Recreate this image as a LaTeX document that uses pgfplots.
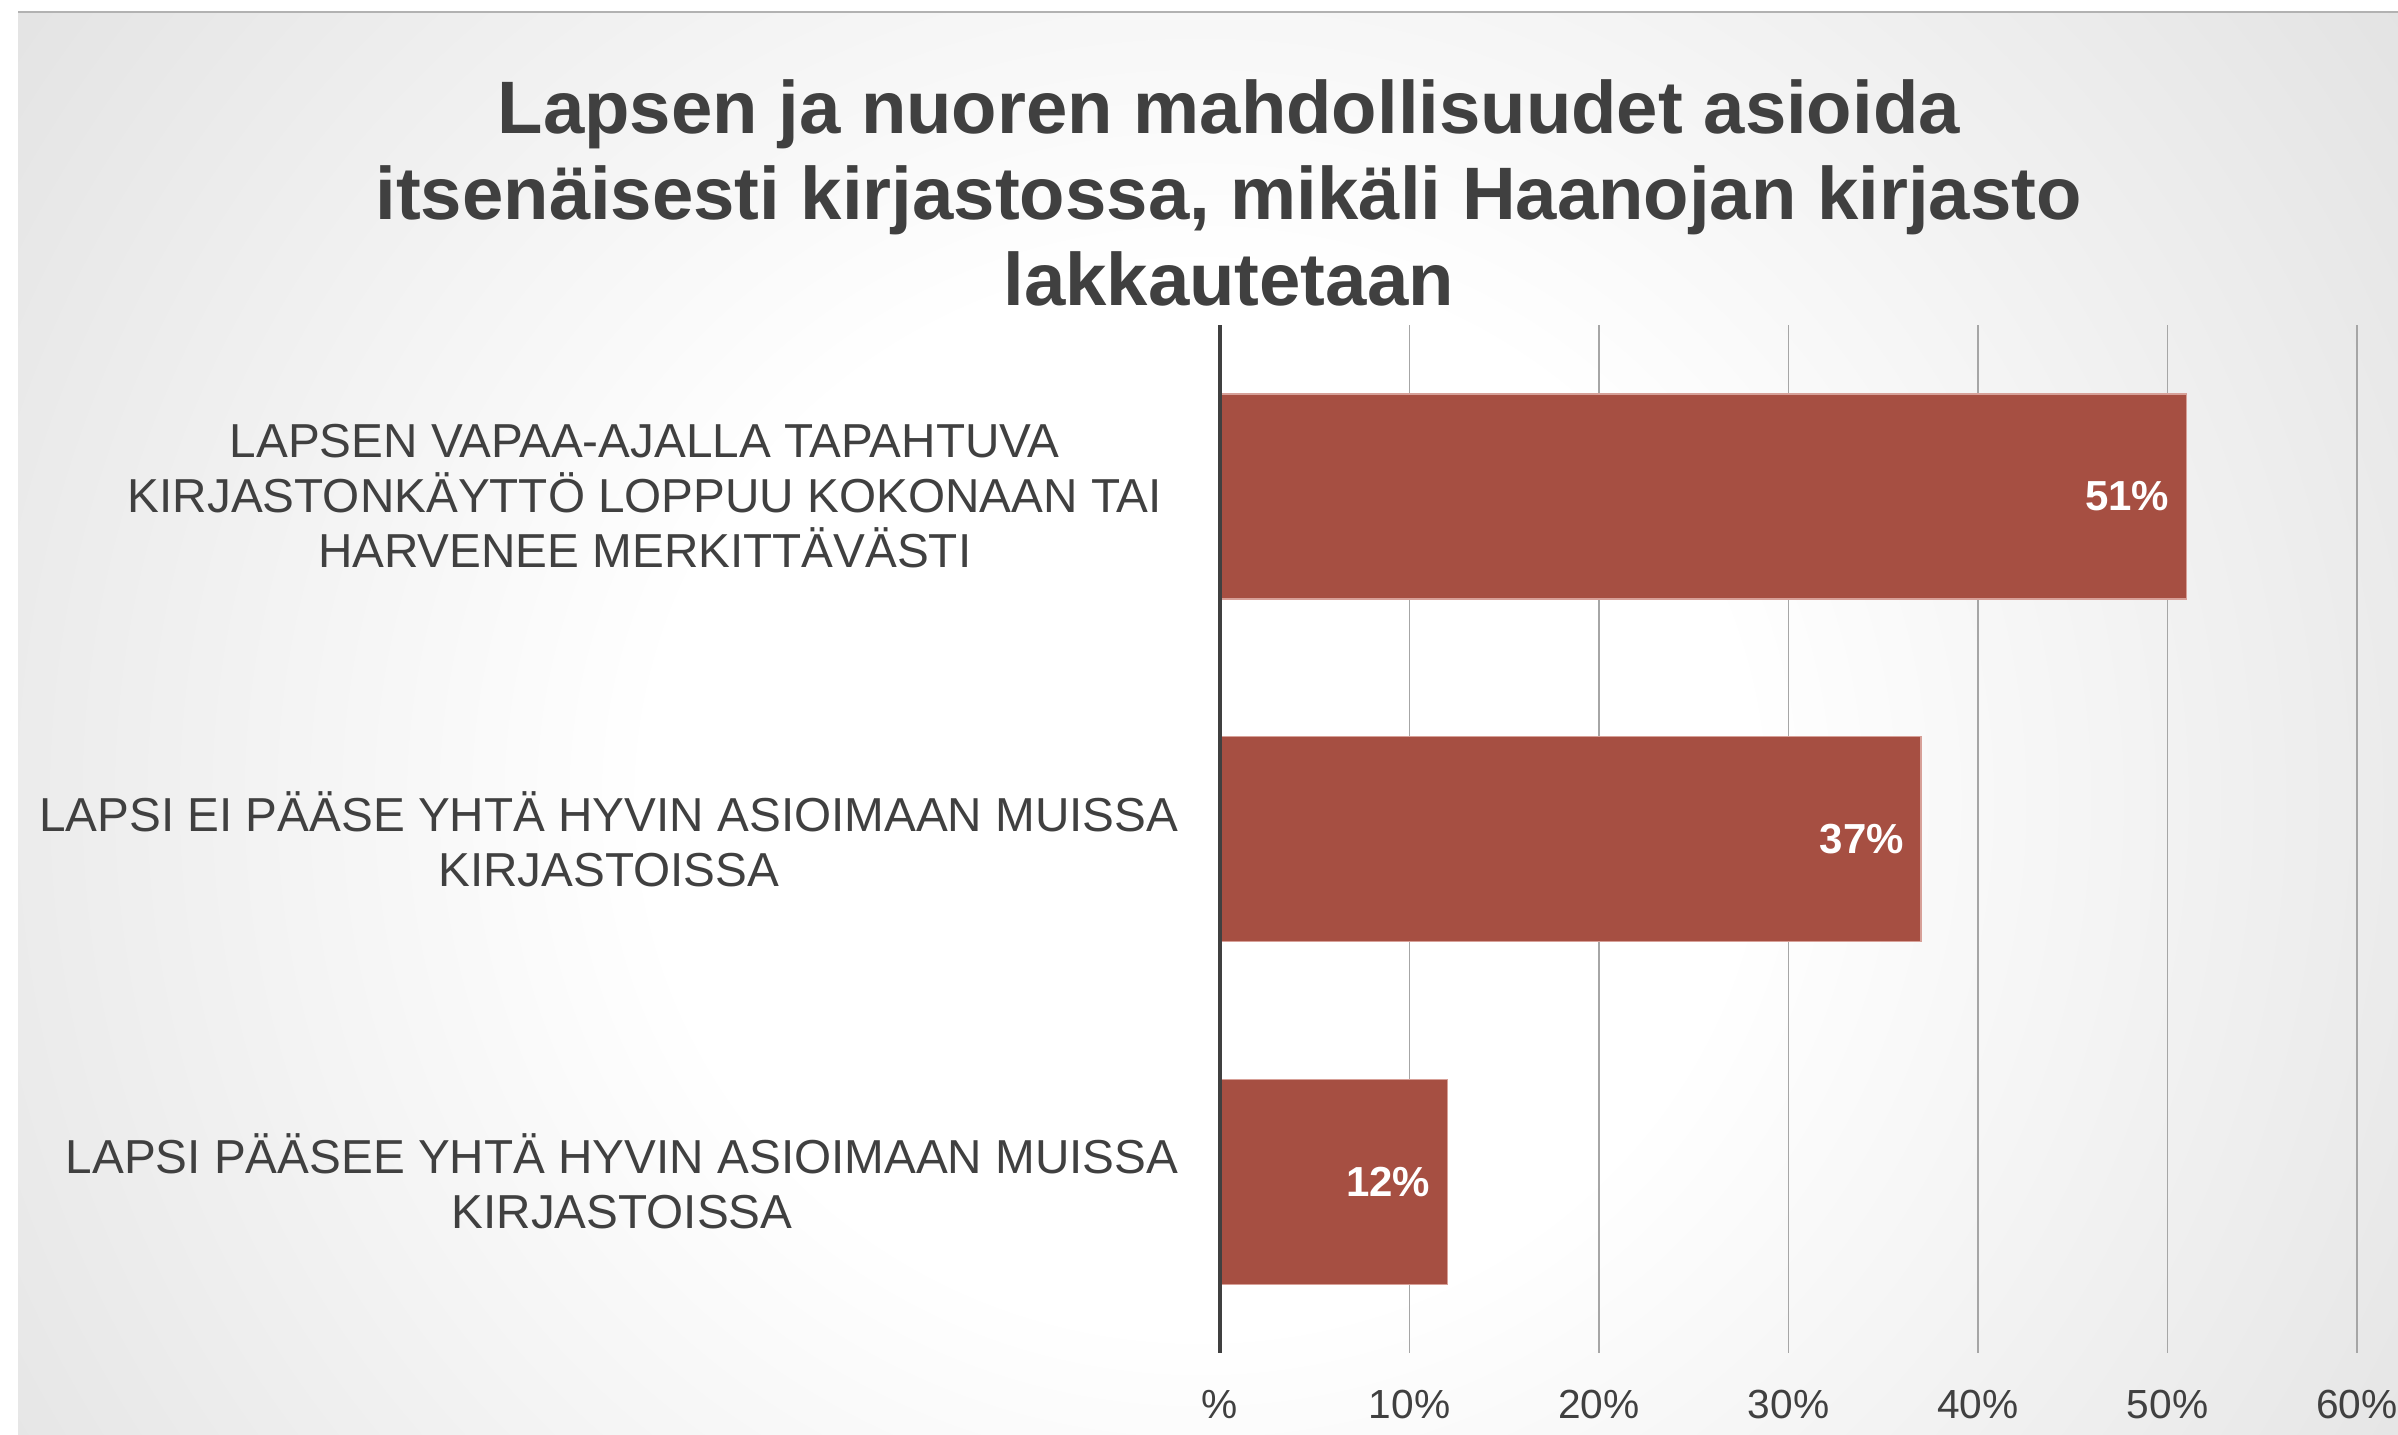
\documentclass[border=0pt]{standalone}
\usepackage{pgfplots}
\pgfplotsset{compat=1.18}
\usepackage{fontspec}
\setmainfont{Liberation Sans}

\definecolor{barRed}{RGB}{166,79,66}
\definecolor{barEdge}{RGB}{215,160,152}
\definecolor{txt}{RGB}{64,64,64}
\definecolor{gridc}{RGB}{166,166,166}
\definecolor{bgEdge}{RGB}{198,198,198}
\definecolor{bgCorner}{RGB}{188,188,188}
\pgfdeclareradialshading{bgshade}{\pgfpoint{0bp}{0bp}}{color(0bp)=(white); color(11bp)=(white); color(48bp)=(bgEdge); color(72bp)=(bgCorner)}

\begin{document}
\begin{tikzpicture}
% page frame and grey radial background
\path[use as bounding box] (0pt,0pt) rectangle (719.4pt,-430.5pt);
\begin{scope}
  \clip (5.4pt,-3.6pt) rectangle (719.4pt,-430.5pt);
  \shade[shading=bgshade] (-15pt,-600pt) rectangle (735pt,120pt);
\end{scope}
\draw[color=black!30, line width=0.6pt] (5.4pt,-3.6pt) -- (719.4pt,-3.6pt);

% title
\begin{scope}[every node/.style={anchor=base, text=txt, inner sep=0pt,
    font=\fontsize{22.3}{25.9}\selectfont\bfseries}]
  \node at (368.6pt,-40.2pt) {Lapsen ja nuoren mahdollisuudet asioida};
  \node at (368.6pt,-66.0pt) {itsenäisesti kirjastossa, mikäli Haanojan kirjasto};
  \node at (368.6pt,-91.8pt) {lakkautetaan};
\end{scope}

\begin{axis}[
  at={(366pt,-405.9pt)}, anchor=south west,
  width=341.1pt, height=308.4pt, scale only axis,
  clip=false,
  xbar, bar width=61.5pt,
  xmin=0, xmax=60, ymin=-0.5, ymax=2.5, y dir=reverse,
  axis line style={draw=none},
  major tick length=0pt, tick style={draw=none},
  xtick={0,10,20,30,40,50,60},
  xticklabels={\%,10\%,20\%,30\%,40\%,50\%,60\%},
  xmajorgrids, grid style={draw=gridc, line width=0.5pt},
  ytick={0,1,2},
  yticklabels={
    {LAPSEN VAPAA-AJALLA TAPAHTUVA\rule{5pt}{0pt}\\KIRJASTONKÄYTTÖ LOPPUU KOKONAAN TAI\rule{5pt}{0pt}\\HARVENEE MERKITTÄVÄSTI\rule{5pt}{0pt}},
    {LAPSI EI PÄÄSE YHTÄ HYVIN ASIOIMAAN MUISSA\\KIRJASTOISSA},
    {LAPSI PÄÄSEE YHTÄ HYVIN ASIOIMAAN MUISSA\\KIRJASTOISSA}},
  yticklabel style={align=center, anchor=east, inner sep=0pt, xshift=-12.3pt,
    text=txt, font=\fontsize{14.3}{16.5}\selectfont},
  xticklabel style={anchor=center, inner sep=0pt, yshift=-15.3pt,
    text=txt, font=\fontsize{12.2}{14}\selectfont},
  point meta=x,
  nodes near coords={\pgfmathprintnumber{\pgfplotspointmeta}\%},
  nodes near coords style={anchor=east, inner sep=0pt, xshift=-5pt,
    text=white, font=\fontsize{12.6}{14}\selectfont\bfseries},
  /pgf/number format/assume math mode=true,
]
\addplot[fill=barRed, draw=barEdge, line width=0.4pt]
  coordinates {(51,0) (37,1) (12,2)};
% vertical category axis line
\draw[txt, line width=1.2pt] (axis cs:0,-0.5) -- (axis cs:0,2.5);
\end{axis}
\end{tikzpicture}
\end{document}
